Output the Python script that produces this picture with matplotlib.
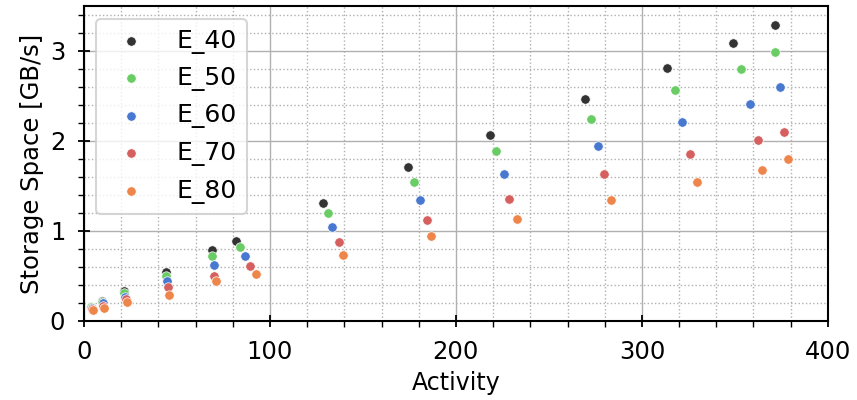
import matplotlib
matplotlib.use("Agg")
import matplotlib.pyplot as plt
from matplotlib.ticker import MultipleLocator

labels = ["E_40", "E_50", "E_60", "E_70", "E_80"]
colors = ["#333333", "#6acc64", "#4878d0", "#d65f5f", "#ee854a"]

x_e40 = [3.8, 9.5, 21.3, 43.9, 68.6, 81.9, 128.3, 174.0, 218.5, 269.4, 313.4, 348.9, 371.8]
y_e40 = [0.16, 0.22, 0.33, 0.54, 0.785, 0.89, 1.31, 1.71, 2.07, 2.47, 2.815, 3.085, 3.29]
x_e50 = [4.0, 9.8, 21.7, 44.1, 69.0, 84.0, 131.0, 177.4, 221.5, 272.8, 317.6, 353.4, 371.8]
y_e50 = [0.155, 0.21, 0.31, 0.50, 0.72, 0.82, 1.20, 1.55, 1.89, 2.25, 2.57, 2.80, 2.99]
x_e60 = [4.2, 10.1, 22.2, 44.6, 69.7, 86.6, 133.3, 180.8, 225.6, 276.2, 321.5, 358.1, 374.0]
y_e60 = [0.145, 0.20, 0.27, 0.44, 0.62, 0.72, 1.04, 1.34, 1.63, 1.94, 2.21, 2.415, 2.60]
x_e70 = [4.4, 10.4, 22.6, 45.2, 70.1, 89.4, 136.9, 184.2, 228.5, 279.7, 325.6, 362.5, 376.3]
y_e70 = [0.135, 0.17, 0.24, 0.38, 0.50, 0.61, 0.88, 1.12, 1.36, 1.63, 1.86, 2.015, 2.10]
x_e80 = [4.7, 10.75, 23.1, 45.5, 70.8, 92.3, 139.4, 186.7, 232.8, 283.3, 329.7, 364.7, 378.8]
y_e80 = [0.122, 0.148, 0.21, 0.29, 0.44, 0.52, 0.73, 0.94, 1.13, 1.35, 1.54, 1.68, 1.80]

xs = [x_e40, x_e50, x_e60, x_e70, x_e80]
ys = [y_e40, y_e50, y_e60, y_e70, y_e80]

fig = plt.figure(figsize=(8.57, 4.0), dpi=100)
ax = fig.add_axes([0.098, 0.1975, 0.868, 0.7875])

for x, y, c, lab in zip(xs, ys, colors, labels):
    ax.scatter(x, y, s=46, color=c, edgecolors="white", linewidths=0.5, label=lab, zorder=3)

ax.set_xlim(0, 400)
ax.set_ylim(0, 3.5)
ax.xaxis.set_major_locator(MultipleLocator(100))
ax.xaxis.set_minor_locator(MultipleLocator(20))
ax.yaxis.set_major_locator(MultipleLocator(1))
ax.yaxis.set_minor_locator(MultipleLocator(0.2))
ax.grid(which="major", color="#b0b0b0", linewidth=1.0, zorder=0)
ax.grid(which="minor", color="#b0b0b0", linestyle=":", linewidth=1.0, zorder=0)
ax.set_axisbelow(True)

ax.tick_params(which="major", direction="inout", length=9, width=1.3, labelsize=17.5, pad=9)
ax.tick_params(which="minor", direction="out", length=4, width=1.0)
for sp in ax.spines.values():
    sp.set_linewidth(1.5)
    sp.set_color("black")

ax.set_xlabel("Activity", fontsize=17, labelpad=5.5)
ax.set_ylabel("Storage Space [GB/s]", fontsize=17.5, labelpad=4)

leg = ax.legend(loc="upper left", fontsize=18, markerscale=1.0, borderaxespad=0.5)
leg.get_frame().set_linewidth(1.5)
leg.get_frame().set_edgecolor("#cccccc")

fig.savefig("out.png", dpi=100)
